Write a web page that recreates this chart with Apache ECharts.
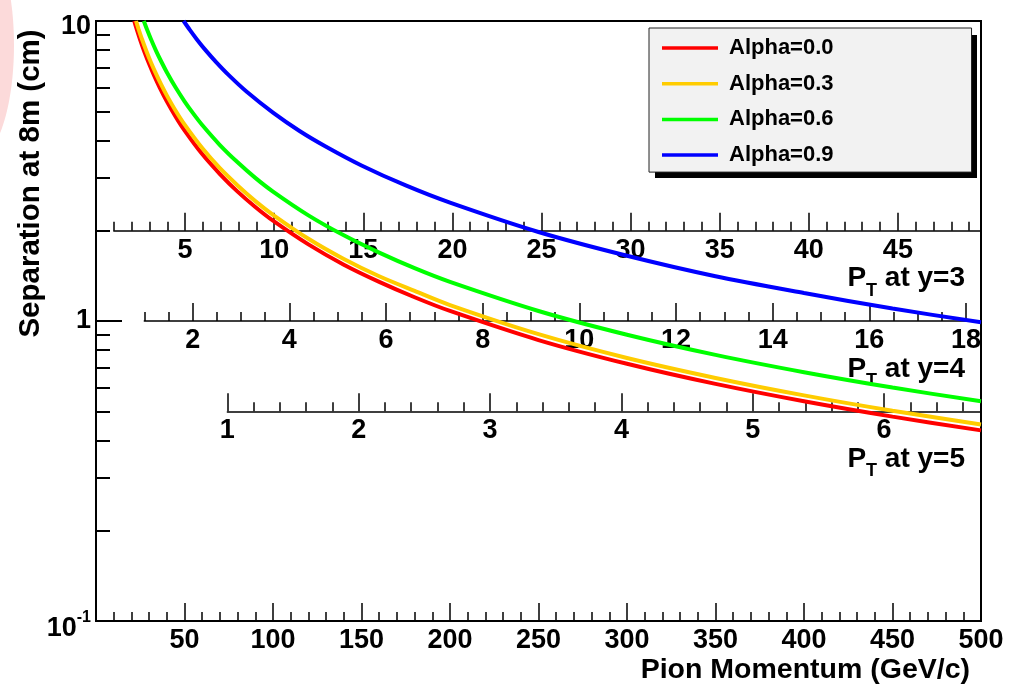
<!DOCTYPE html>
<html>
<head>
<meta charset="utf-8">
<title>Separation at 8m vs Pion Momentum</title>
<script src="https://cdn.jsdelivr.net/npm/echarts@6/dist/echarts.min.js"></script>
<style>
  html, body { margin: 0; padding: 0; background: #ffffff; }
  #chart { width: 1011px; height: 686px; }
</style>
</head>
<body>
<div id="chart"></div>
<script>
// ---- Data: separation at 8 m (cm) versus pion momentum (GeV/c) ----
const seriesNames  = ['Alpha=0.0', 'Alpha=0.3', 'Alpha=0.6', 'Alpha=0.9'];
const seriesColors = ['#ff0000', '#ffcc00', '#00ff00', '#0000ff'];

const momentumA00   = [21.6, 23, 25, 27.5, 30, 33, 36, 40, 45, 50, 60, 70, 80, 90, 100, 120, 140, 160, 180, 200, 250, 300, 350, 400, 450, 500];
const separationA00 = [10.0, 9.39, 8.64, 7.85, 7.20, 6.55, 6.00, 5.40, 4.80, 4.32, 3.60, 3.09, 2.70, 2.40, 2.16, 1.80, 1.54, 1.35, 1.20, 1.08, 0.864, 0.720, 0.617, 0.540, 0.480, 0.432];

const momentumA03   = [22.6, 24, 26, 28.5, 31, 34, 37, 40, 45, 50, 60, 70, 80, 90, 100, 120, 140, 160, 180, 200, 250, 300, 350, 400, 450, 500];
const separationA03 = [10.0, 9.42, 8.69, 7.93, 7.29, 6.65, 6.11, 5.65, 5.02, 4.52, 3.77, 3.23, 2.83, 2.51, 2.26, 1.88, 1.61, 1.41, 1.26, 1.13, 0.904, 0.753, 0.646, 0.565, 0.502, 0.452];

const momentumA06   = [27, 29, 31, 34, 37, 40, 45, 50, 55, 60, 70, 80, 90, 100, 120, 140, 160, 180, 200, 250, 300, 350, 400, 450, 500];
const separationA06 = [10.0, 9.31, 8.71, 7.94, 7.30, 6.75, 6.00, 5.40, 4.91, 4.50, 3.86, 3.38, 3.00, 2.70, 2.25, 1.93, 1.69, 1.50, 1.35, 1.08, 0.900, 0.771, 0.675, 0.600, 0.540];

const momentumA09   = [49.5, 53, 57, 62, 68, 75, 85, 100, 115, 130, 150, 175, 200, 250, 300, 350, 400, 450, 500];
const separationA09 = [10.0, 9.34, 8.68, 7.98, 7.28, 6.60, 5.82, 4.95, 4.30, 3.81, 3.30, 2.83, 2.48, 1.98, 1.65, 1.41, 1.24, 1.10, 0.99];

const momenta     = [momentumA00, momentumA03, momentumA06, momentumA09];
const separations = [separationA00, separationA03, separationA06, separationA09];

// ---- Axis ticks ----
const momentumRange   = [0, 500];
const momentumMajor   = [0, 50, 100, 150, 200, 250, 300, 350, 400, 450, 500];
const momentumLabels  = [50, 100, 150, 200, 250, 300, 350, 400, 450, 500];
const momentumMinorStep = 10;

const separationRange  = [0.1, 10];
const separationMinor  = [0.2, 0.3, 0.4, 0.5, 0.6, 0.7, 0.8, 0.9, 2, 3, 4, 5, 6, 7, 8, 9];

// Transverse-momentum scales, P_T = p / cosh(y), drawn at a given separation level
const rapidities  = [3, 4, 5];
const ptAnchors   = [2, 1, 0.5];
const ptStart     = [1, 1, 1];
const ptMajor     = [
  [5, 10, 15, 20, 25, 30, 35, 40, 45],
  [2, 4, 6, 8, 10, 12, 14, 16, 18],
  [1, 2, 3, 4, 5, 6]
];
const ptMinorStep = [1, 0.5, 0.2];

// ---- Layout ----
const FONT = '"Liberation Sans", Arial, Helvetica, sans-serif';
const PLOT = { left: 96, top: 21, width: 885, height: 600 };
const LEGEND_BOX = { left: 649, top: 28, width: 322, height: 143 };
const pxPerMomentum = PLOT.width / (momentumRange[1] - momentumRange[0]);
const logSpan = Math.log10(separationRange[1]) - Math.log10(separationRange[0]);
function sepToY(s) {
  return PLOT.top + PLOT.height * (Math.log10(separationRange[1]) - Math.log10(s)) / logSpan;
}
function stepsBetween(a, b, step, skip) {
  const out = [];
  for (let k = 0; ; k++) {
    const v = Math.round((a + k * step) * 1e6) / 1e6;
    if (v > b + 1e-9) break;
    if (!skip.some(s => Math.abs(s - v) < 1e-6)) out.push(v);
  }
  return out;
}

const tickLabel = { fontFamily: FONT, fontWeight: 'bold', fontSize: 27, color: '#000' };
const tickLine = { color: '#000', width: 1.5 };

const grids = [], xAxes = [], yAxes = [];
function addGrid(rect, xAxis, yAxis) {
  grids.push(Object.assign({ show: false, containLabel: false, outerBoundsMode: 'none' }, rect));
  const idx = grids.length - 1;
  xAxes.push(Object.assign({ gridIndex: idx, splitLine: { show: false } }, xAxis));
  yAxes.push(Object.assign({ gridIndex: idx, splitLine: { show: false } }, yAxis));
  return idx;
}
const hiddenY = { type: 'value', show: false };

// Main frame: momentum (linear) vs separation (log)
addGrid(
  Object.assign({ show: true, borderColor: '#000', borderWidth: 2 }, PLOT),
  {
    type: 'value', position: 'bottom', min: momentumRange[0], max: momentumRange[1],
    axisLine: { onZero: false, lineStyle: { color: '#000', width: 2 } },
    axisTick: { inside: true, length: 18, customValues: momentumMajor, lineStyle: tickLine },
    axisLabel: Object.assign({ customValues: momentumLabels, margin: 6 }, tickLabel)
  },
  {
    type: 'log', logBase: 10, position: 'left', min: separationRange[0], max: separationRange[1],
    axisLine: { onZero: false, lineStyle: { color: '#000', width: 2 } },
    axisTick: { inside: true, length: 26, lineStyle: { color: '#000', width: 2 } },
    minorTick: { show: false },
    axisLabel: {
      margin: 5,
      formatter: v => {
        const e = Math.round(Math.log10(v));
        if (e === 1) return '{top|10}';
        if (e === 0) return '{mid|1}';
        return '{low|10}{sup|' + e + '}';
      },
      rich: {
        top: Object.assign({ lineHeight: 39, verticalAlign: 'bottom' }, tickLabel),
        mid: Object.assign({ lineHeight: 27 }, tickLabel),
        low: Object.assign({ lineHeight: 42, verticalAlign: 'bottom' }, tickLabel),
        sup: { fontFamily: FONT, fontWeight: 'bold', fontSize: 16, lineHeight: 16, color: '#000', verticalAlign: 'bottom', padding: [0, 0, 16, 0] }
      }
    }
  }
);

// Minor ticks of the main frame
addGrid(
  Object.assign({}, PLOT),
  {
    type: 'value', position: 'bottom', min: momentumRange[0], max: momentumRange[1],
    axisLine: { show: false, onZero: false },
    axisTick: { inside: true, length: 9, customValues: stepsBetween(momentumRange[0], momentumRange[1], momentumMinorStep, momentumMajor), lineStyle: tickLine },
    axisLabel: { show: false }
  },
  {
    type: 'value', position: 'left', min: -1, max: 1,
    axisLine: { show: false, onZero: false },
    axisTick: { inside: true, length: 14, customValues: separationMinor.map(s => Math.log10(s)), lineStyle: { color: '#000', width: 2 } },
    axisLabel: { show: false }
  }
);

// P_T scales for each rapidity
const ptLabelGraphics = [];
rapidities.forEach((r, i) => {
  const c = Math.cosh(r);
  const left = PLOT.left + ptStart[i] * c * pxPerMomentum;
  const right = PLOT.left + PLOT.width;
  const yLine = sepToY(ptAnchors[i]);
  const ptMax = momentumRange[1] / c;
  const rect = { left: left, width: right - left, top: yLine - 10, height: 10 };
  addGrid(rect, {
    type: 'value', position: 'bottom', min: ptStart[i], max: ptMax,
    axisLine: { onZero: false, lineStyle: { color: '#000', width: 1.5 } },
    axisTick: { inside: true, length: 18, customValues: ptMajor[i], lineStyle: tickLine },
    axisLabel: Object.assign({ customValues: ptMajor[i], margin: 6 }, tickLabel)
  }, hiddenY);
  addGrid(Object.assign({}, rect), {
    type: 'value', position: 'bottom', min: ptStart[i], max: ptMax,
    axisLine: { show: false, onZero: false },
    axisTick: { inside: true, length: 9, customValues: stepsBetween(ptStart[i], ptMax, ptMinorStep[i], ptMajor[i]), lineStyle: tickLine },
    axisLabel: { show: false }
  }, hiddenY);

  ptLabelGraphics.push({
    type: 'text', x: 965, y: yLine + 56, silent: true,
    style: {
      text: '{a|P}{b|T}{a| at y=' + r + '}',
      align: 'right', verticalAlign: 'middle',
      rich: {
        a: { fontFamily: FONT, fontWeight: 'bold', fontSize: 28, lineHeight: 28, color: '#000', verticalAlign: 'bottom', padding: [0, 0, 8, 0] },
        b: { fontFamily: FONT, fontWeight: 'bold', fontSize: 18, lineHeight: 18, color: '#000', verticalAlign: 'bottom', padding: [0, 0, 1, 0] }
      }
    }
  });
});

const chart = echarts.init(document.getElementById('chart'), null, { renderer: 'canvas' });

chart.setOption({
  animation: false,
  backgroundColor: '#ffffff',
  grid: grids,
  xAxis: xAxes,
  yAxis: yAxes,
  legend: {
    show: true,
    orient: 'vertical',
    left: LEGEND_BOX.left, top: LEGEND_BOX.top,
    icon: 'rect',
    itemWidth: 56, itemHeight: 3.5, itemGap: 13.7,
    padding: [9, 138, 6, 13],
    backgroundColor: '#f2f2f2',
    borderColor: '#222', borderWidth: 1,
    selectedMode: false,
    textStyle: { fontFamily: FONT, fontWeight: 'bold', fontSize: 22, lineHeight: 22, color: '#000', padding: [0, 0, 0, 6] },
    data: seriesNames
  },
  graphic: [
    {
      type: 'ellipse', silent: true, z: -10,
      shape: { cx: -25, cy: 45, rx: 39, ry: 115 },
      style: { fill: '#fcdada' }
    },
    {
      // drop shadow behind the legend box
      type: 'rect', silent: true, z: -5,
      shape: { x: LEGEND_BOX.left + 6, y: LEGEND_BOX.top + 7, width: LEGEND_BOX.width, height: LEGEND_BOX.height },
      style: { fill: '#000' }
    },
    {
      type: 'text', x: 31, y: 183.5, rotation: Math.PI / 2, silent: true,
      style: { text: 'Separation at 8m (cm)', fontFamily: FONT, fontWeight: 'bold', fontSize: 29.5, fill: '#000', align: 'center', verticalAlign: 'middle' }
    },
    {
      type: 'text', x: 970, y: 670, silent: true,
      style: { text: 'Pion Momentum (GeV/c)', fontFamily: FONT, fontWeight: 'bold', fontSize: 28.5, fill: '#000', align: 'right', verticalAlign: 'middle' }
    }
  ].concat(ptLabelGraphics),
  series: seriesNames.map((name, i) => ({
    name: name,
    type: 'line',
    xAxisIndex: 0, yAxisIndex: 0,
    data: momenta[i].map((p, k) => [p, separations[i][k]]),
    symbol: 'none', showSymbol: false,
    smooth: 0.3,
    clip: true,
    z: 3,
    lineStyle: { color: seriesColors[i], width: 4 },
    itemStyle: { color: seriesColors[i] },
    emphasis: { disabled: true }
  }))
});
</script>
</body>
</html>
